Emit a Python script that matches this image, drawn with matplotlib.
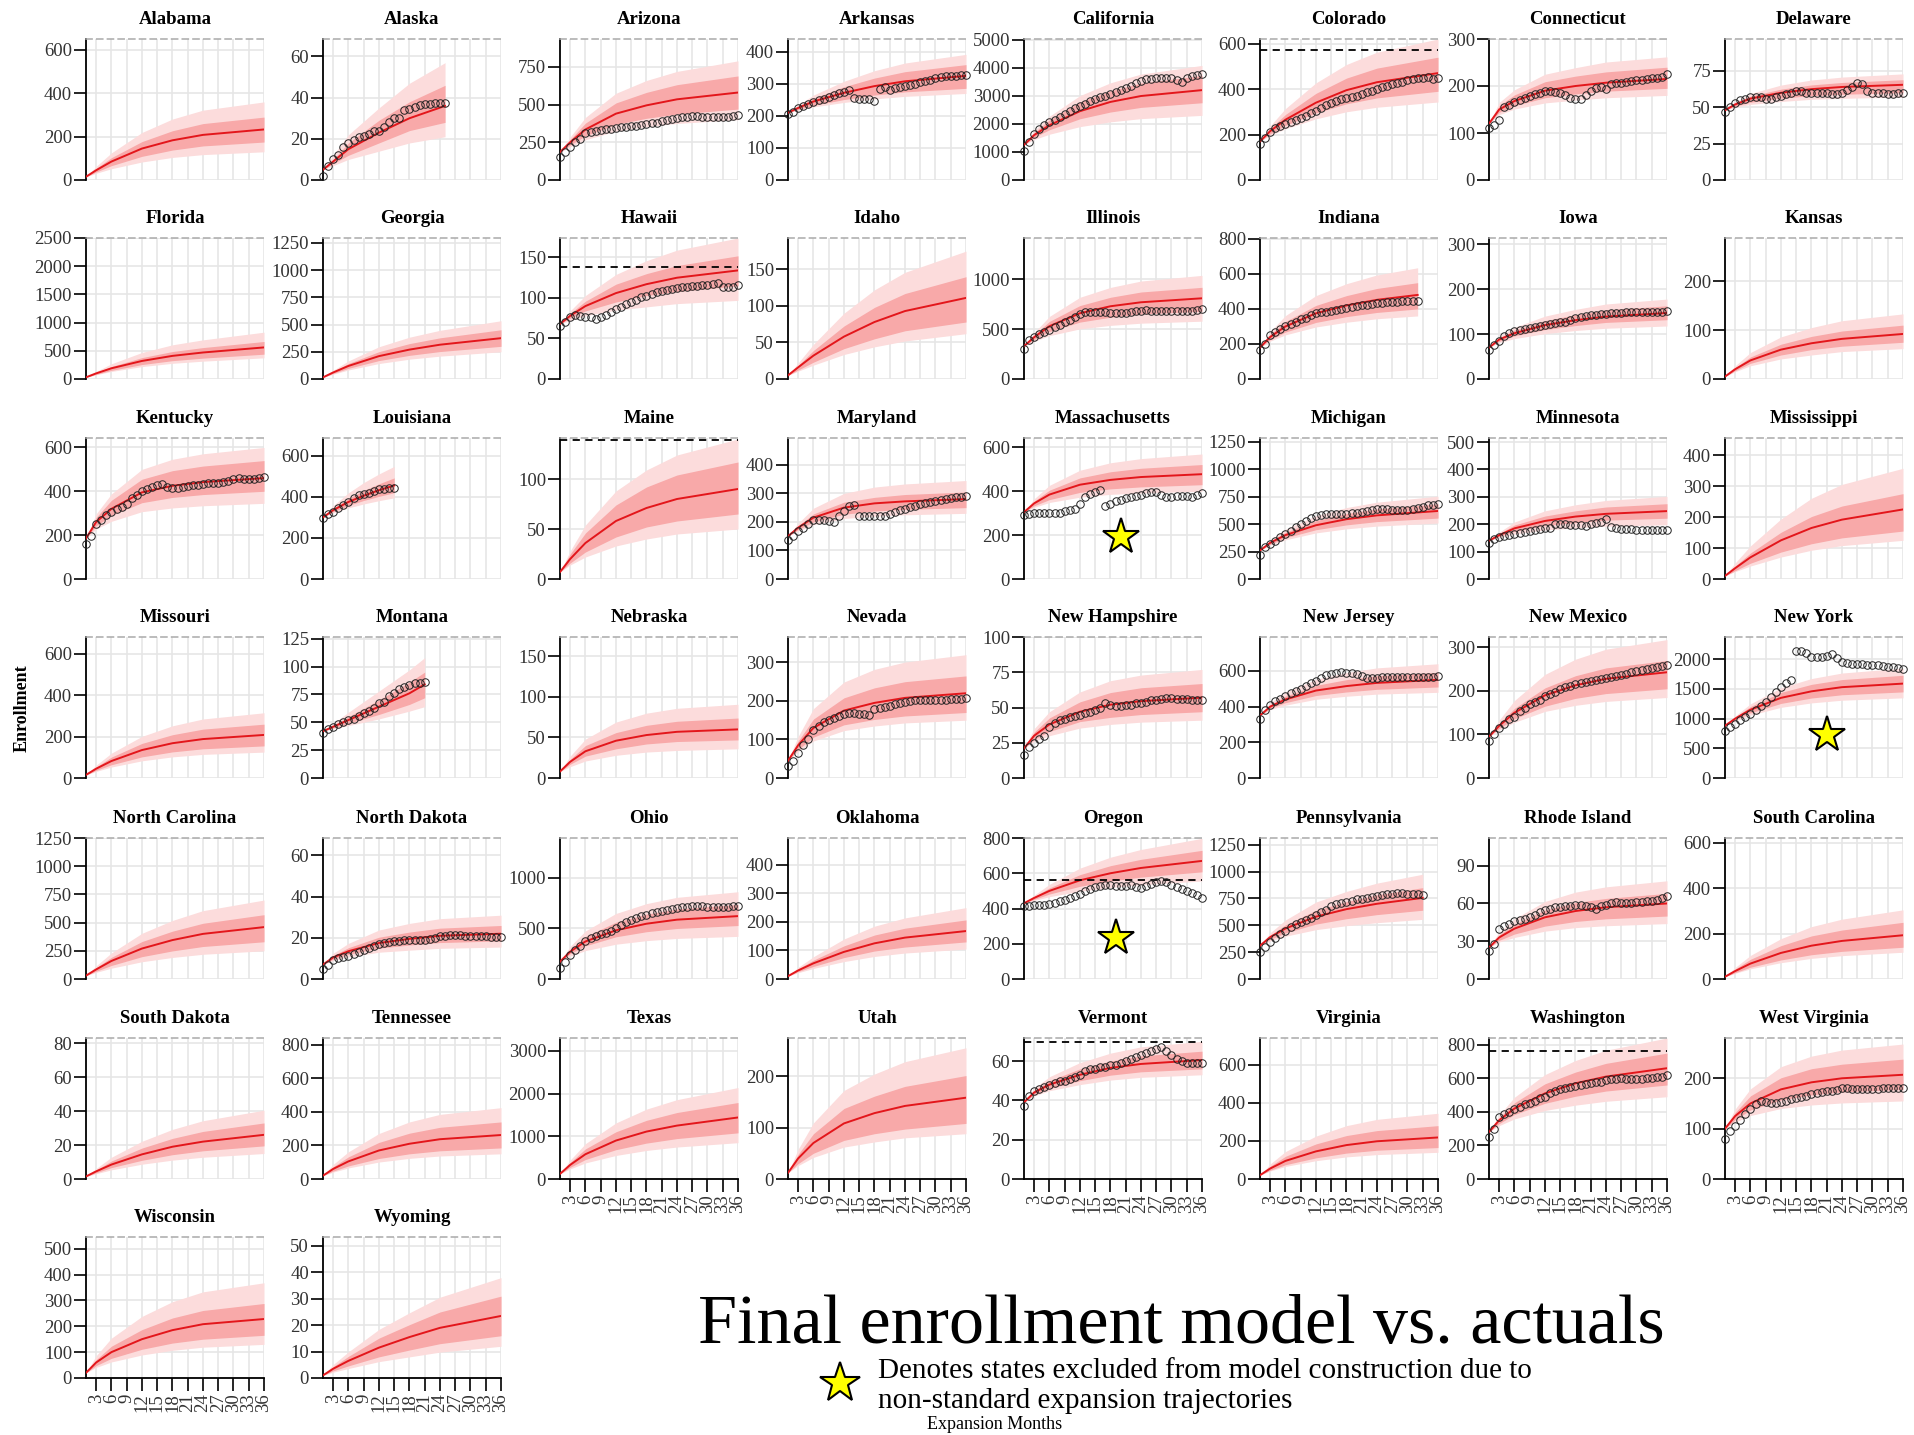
import numpy as np
import matplotlib.pyplot as plt

plt.rcParams['font.family'] = ['Liberation Serif', 'DejaVu Serif']

# model quantiles are sampled at these expansion months
MONTHS = [1, 3, 6, 12, 18, 24, 36]
MODEL_MONTHS = {
    'Alaska': [1, 3, 6, 12, 18, 25],
    'Louisiana': [1, 3, 6, 9, 12, 15],
    'Montana': [1, 3, 6, 12, 18, 21],
    'Indiana': [1, 3, 6, 12, 18, 24, 32],
    'Pennsylvania': [1, 3, 6, 12, 18, 24, 33],
}

STATES = [
    'Alabama', 'Alaska', 'Arizona', 'Arkansas', 'California', 'Colorado', 'Connecticut', 'Delaware',
    'Florida', 'Georgia', 'Hawaii', 'Idaho', 'Illinois', 'Indiana', 'Iowa', 'Kansas',
    'Kentucky', 'Louisiana', 'Maine', 'Maryland', 'Massachusetts', 'Michigan', 'Minnesota', 'Mississippi',
    'Missouri', 'Montana', 'Nebraska', 'Nevada', 'New Hampshire', 'New Jersey', 'New Mexico', 'New York',
    'North Carolina', 'North Dakota', 'Ohio', 'Oklahoma', 'Oregon', 'Pennsylvania', 'Rhode Island', 'South Carolina',
    'South Dakota', 'Tennessee', 'Texas', 'Utah', 'Vermont', 'Virginia', 'Washington', 'West Virginia',
    'Wisconsin', 'Wyoming',
]

Y_TOP = {
    'Alabama': 650, 'Alaska': 68.5, 'Arizona': 935, 'Arkansas': 440, 'California': 5020,
    'Colorado': 620, 'Connecticut': 300, 'Delaware': 97, 'Florida': 2500, 'Georgia': 1295,
    'Hawaii': 174, 'Idaho': 193, 'Illinois': 1415, 'Indiana': 805, 'Iowa': 314, 'Kansas': 288,
    'Kentucky': 643, 'Louisiana': 686, 'Maine': 141, 'Maryland': 494, 'Massachusetts': 643,
    'Michigan': 1285, 'Minnesota': 515, 'Mississippi': 456, 'Missouri': 681, 'Montana': 126.5,
    'Nebraska': 174, 'Nevada': 366, 'New Hampshire': 100, 'New Jersey': 790, 'New Mexico': 324,
    'New York': 2375, 'North Carolina': 1250, 'North Dakota': 68.5, 'Ohio': 1390, 'Oklahoma': 494,
    'Oregon': 800, 'Pennsylvania': 1312, 'Rhode Island': 112, 'South Carolina': 622,
    'South Dakota': 83, 'Tennessee': 840, 'Texas': 3300, 'Utah': 274, 'Vermont': 71.7,
    'Virginia': 740, 'Washington': 840, 'West Virginia': 280, 'Wisconsin': 545, 'Wyoming': 53.4,
}

Y_STEP = {
    'Alabama': 200, 'Alaska': 20, 'Arizona': 250, 'Arkansas': 100, 'California': 1000,
    'Colorado': 200, 'Connecticut': 100, 'Delaware': 25, 'Florida': 500, 'Georgia': 250,
    'Hawaii': 50, 'Idaho': 50, 'Illinois': 500, 'Indiana': 200, 'Iowa': 100, 'Kansas': 100,
    'Kentucky': 200, 'Louisiana': 200, 'Maine': 50, 'Maryland': 100, 'Massachusetts': 200,
    'Michigan': 250, 'Minnesota': 100, 'Mississippi': 100, 'Missouri': 200, 'Montana': 25,
    'Nebraska': 50, 'Nevada': 100, 'New Hampshire': 25, 'New Jersey': 200, 'New Mexico': 100,
    'New York': 500, 'North Carolina': 250, 'North Dakota': 20, 'Ohio': 500, 'Oklahoma': 100,
    'Oregon': 200, 'Pennsylvania': 250, 'Rhode Island': 30, 'South Carolina': 200,
    'South Dakota': 20, 'Tennessee': 200, 'Texas': 1000, 'Utah': 100, 'Vermont': 20,
    'Virginia': 200, 'Washington': 200, 'West Virginia': 100, 'Wisconsin': 100, 'Wyoming': 10,
}

MEDIAN = {
    'Alabama': [15, 45, 85, 145, 183, 208, 233],
    'Alaska': [5, 9, 15, 23, 30, 36],
    'Arizona': [185, 250, 335, 440, 495, 535, 580],
    'Arkansas': [210, 225, 245, 272, 293, 308, 325],
    'California': [1250, 1600, 1950, 2450, 2780, 2990, 3200],
    'Colorado': [170, 215, 265, 340, 395, 430, 470],
    'Connecticut': [120, 150, 168, 190, 200, 207, 215],
    'Delaware': [48, 52, 56, 60, 62.5, 64, 65.5],
    'Florida': [30, 100, 190, 320, 410, 470, 560],
    'Georgia': [15, 60, 120, 210, 270, 315, 375],
    'Hawaii': [68, 78, 90, 106, 117, 125, 134],
    'Idaho': [5, 16, 32, 58, 78, 93, 111],
    'Illinois': [330, 420, 530, 660, 730, 770, 810],
    'Indiana': [180, 240, 300, 375, 420, 452, 480],
    'Iowa': [70, 88, 102, 120, 131, 139, 147],
    'Kansas': [5, 20, 38, 60, 73, 82, 92],
    'Kentucky': [185, 260, 320, 395, 425, 442, 460],
    'Louisiana': [300, 335, 375, 405, 432, 455],
    'Maine': [7, 20, 36, 58, 71, 80, 90],
    'Maryland': [150, 180, 215, 250, 265, 272, 280],
    'Massachusetts': [305, 345, 385, 430, 452, 465, 478],
    'Michigan': [260, 330, 400, 490, 545, 580, 620],
    'Minnesota': [140, 160, 185, 212, 228, 238, 248],
    'Mississippi': [10, 35, 70, 125, 165, 192, 225],
    'Missouri': [15, 45, 82, 135, 168, 188, 208],
    'Montana': [42, 46, 52, 64, 76, 84],
    'Nebraska': [8, 20, 33, 46, 53, 57, 60],
    'Nevada': [45, 85, 130, 175, 195, 208, 220],
    'New Hampshire': [21, 30, 38, 47, 52, 54.5, 57],
    'New Jersey': [350, 400, 440, 490, 515, 533, 550],
    'New Mexico': [95, 120, 150, 190, 213, 228, 243],
    'New York': [880, 1000, 1150, 1350, 1460, 1530, 1590],
    'North Carolina': [30, 85, 160, 270, 345, 400, 460],
    'North Dakota': [7, 10.5, 13.5, 17.5, 19.5, 21, 22],
    'Ohio': [170, 270, 370, 480, 545, 585, 620],
    'Oklahoma': [10, 30, 55, 95, 125, 145, 168],
    'Oregon': [430, 460, 500, 560, 600, 630, 670],
    'Pennsylvania': [310, 390, 470, 580, 650, 700, 755],
    'Rhode Island': [25, 33, 40, 49, 54, 57, 60],
    'South Carolina': [10, 35, 68, 115, 147, 168, 193],
    'South Dakota': [1.5, 4.5, 8.5, 14.5, 19, 22, 26],
    'Tennessee': [20, 60, 105, 170, 210, 237, 262],
    'Texas': [120, 330, 580, 900, 1110, 1250, 1440],
    'Utah': [12, 40, 70, 108, 128, 142, 158],
    'Vermont': [39, 44, 48, 53, 56.5, 58.5, 60.5],
    'Virginia': [20, 55, 95, 145, 178, 198, 218],
    'Washington': [280, 350, 420, 510, 570, 610, 660],
    'West Virginia': [100, 125, 150, 178, 192, 200, 207],
    'Wisconsin': [20, 60, 100, 150, 185, 208, 228],
    'Wyoming': [1, 3.5, 6.5, 11.5, 15.5, 19, 23.5],
}

INNER_LO = {
    'Alabama': [15, 37, 66, 109, 138, 157, 175],
    'Alaska': [5, 8, 12, 18, 24, 28],
    'Arizona': [185, 232, 293, 369, 409, 437, 470],
    'Arkansas': [210, 220, 233, 251, 265, 275, 286],
    'California': [1250, 1520, 1790, 2180, 2420, 2585, 2750],
    'Colorado': [170, 203, 240, 295, 335, 361, 390],
    'Connecticut': [120, 144, 158, 175, 183, 189, 195],
    'Delaware': [48, 50.8, 53.5, 56.3, 58, 59, 60],
    'Florida': [30, 83, 153, 256, 325, 370, 440],
    'Georgia': [15, 51, 98, 169, 217, 252, 300],
    'Hawaii': [68, 75, 84, 95, 103, 108, 115],
    'Idaho': [5, 12.3, 23, 41.5, 55, 66, 78],
    'Illinois': [330, 397, 477, 571, 620, 652, 680],
    'Indiana': [180, 224, 268, 323, 356, 380, 400],
    'Iowa': [70, 84, 96, 110, 119, 126, 132],
    'Kansas': [5, 17, 32, 49, 60, 67, 75],
    'Kentucky': [185, 243, 290, 348, 372, 385, 400],
    'Louisiana': [300, 328, 358, 382, 402, 420],
    'Maine': [7, 16, 27, 42, 52, 58, 65],
    'Maryland': [150, 173, 200, 227, 238, 244, 250],
    'Massachusetts': [305, 334, 362, 395, 411, 420, 430],
    'Michigan': [260, 316, 375, 449, 493, 523, 555],
    'Minnesota': [140, 156, 174, 195, 206, 215, 222],
    'Mississippi': [10, 27, 51, 87, 114, 133, 155],
    'Missouri': [15, 37, 64, 102, 126, 141, 155],
    'Montana': [42, 45, 49, 57, 66, 72],
    'Nebraska': [8, 17, 27, 36, 42, 45, 47],
    'Nevada': [45, 74, 106, 138, 152, 161, 170],
    'New Hampshire': [21, 27.5, 33, 40, 43, 45, 47],
    'New Jersey': [350, 390, 422, 462, 482, 497, 510],
    'New Mexico': [95, 114, 136, 165, 183, 194, 205],
    'New York': [880, 977, 1097, 1256, 1347, 1402, 1450],
    'North Carolina': [30, 69, 120, 198, 249, 288, 330],
    'North Dakota': [7, 9.6, 12, 15, 16.5, 17.7, 18.5],
    'Ohio': [170, 249, 327, 416, 466, 498, 527],
    'Oklahoma': [10, 26, 44, 75, 98, 112, 130],
    'Oregon': [430, 452, 482, 526, 556, 578, 608],
    'Pennsylvania': [310, 369, 429, 511, 561, 599, 640],
    'Rhode Island': [25, 30.7, 35.7, 42, 45.7, 47.8, 50],
    'South Carolina': [10, 28, 52, 84, 107, 122, 140],
    'South Dakota': [1.5, 3.7, 6.7, 11, 14.3, 16.6, 19.5],
    'Tennessee': [20, 47, 78, 122, 150, 168, 185],
    'Texas': [120, 274, 456, 686, 840, 946, 1080],
    'Utah': [12, 30, 50, 75, 88, 97, 108],
    'Vermont': [39, 43, 46, 50, 52.8, 54.5, 56],
    'Virginia': [20, 46, 75, 111, 136, 151, 165],
    'Washington': [280, 330, 384, 451, 493, 524, 560],
    'West Virginia': [100, 118, 137, 157, 167, 173, 178],
    'Wisconsin': [20, 48, 76, 111, 135, 150, 165],
    'Wyoming': [1, 2.7, 4.6, 8, 10.6, 13, 16],
}

INNER_HI = {
    'Alabama': [15, 54, 103, 177, 227, 260, 290],
    'Alaska': [5, 10, 18, 29, 38, 46],
    'Arizona': [185, 268, 377, 511, 581, 632, 690],
    'Arkansas': [210, 230, 255, 291, 318, 338, 360],
    'California': [1250, 1695, 2140, 2780, 3175, 3450, 3720],
    'Colorado': [170, 226, 288, 381, 448, 492, 540],
    'Connecticut': [120, 158, 181, 209, 221, 230, 240],
    'Delaware': [48, 52.8, 57.7, 62.5, 65.4, 67.1, 69],
    'Florida': [30, 113, 221, 379, 487, 557, 665],
    'Georgia': [15, 70, 142, 251, 325, 378, 452],
    'Hawaii': [68, 81, 96, 117, 130, 140, 152],
    'Idaho': [5, 18.5, 39, 72.5, 98, 117, 140],
    'Illinois': [330, 442, 578, 737, 820, 873, 920],
    'Indiana': [180, 254, 328, 420, 476, 517, 550],
    'Iowa': [70, 91, 109, 130, 143, 154, 163],
    'Kansas': [5, 23, 45, 71, 87, 98, 110],
    'Kentucky': [185, 281, 359, 455, 494, 515, 540],
    'Louisiana': [300, 344, 392, 431, 463, 492],
    'Maine': [7, 25, 46, 74, 92, 104, 117],
    'Maryland': [150, 186, 228, 269, 286, 296, 305],
    'Massachusetts': [305, 355, 405, 461, 489, 505, 522],
    'Michigan': [260, 341, 426, 532, 596, 638, 685],
    'Minnesota': [140, 166, 197, 230, 249, 263, 275],
    'Mississippi': [10, 42, 84, 151, 202, 236, 276],
    'Missouri': [15, 53, 101, 167, 209, 236, 260],
    'Montana': [42, 47, 55, 70, 86, 95],
    'Nebraska': [8, 23, 40, 56, 65, 70, 74],
    'Nevada': [45, 96, 153, 208, 234, 250, 265],
    'New Hampshire': [21, 32.5, 42.6, 54, 60.6, 64, 67],
    'New Jersey': [350, 410, 459, 519, 551, 573, 592],
    'New Mexico': [95, 125, 160, 207, 235, 253, 270],
    'New York': [880, 1025, 1203, 1441, 1577, 1658, 1730],
    'North Carolina': [30, 100, 192, 332, 424, 494, 570],
    'North Dakota': [7, 11.4, 15.2, 20.3, 22.8, 24.7, 26],
    'Ohio': [170, 294, 419, 560, 639, 690, 735],
    'Oklahoma': [10, 36, 66, 116, 154, 178, 207],
    'Oregon': [430, 468, 517, 592, 643, 679, 730],
    'Pennsylvania': [310, 407, 504, 639, 720, 783, 850],
    'Rhode Island': [25, 35, 43.5, 54.7, 60.7, 64, 68],
    'South Carolina': [10, 44, 87, 147, 190, 216, 250],
    'South Dakota': [1.5, 5.3, 10.6, 18.2, 23.9, 28, 33],
    'Tennessee': [20, 73, 132, 218, 273, 308, 340],
    'Texas': [120, 387, 705, 1105, 1373, 1556, 1790],
    'Utah': [12, 48, 88, 137, 161, 180, 201],
    'Vermont': [39, 45, 50, 56, 60, 62.6, 65],
    'Virginia': [20, 67, 119, 184, 228, 254, 280],
    'Washington': [280, 365, 454, 567, 637, 689, 750],
    'West Virginia': [100, 132, 165, 201, 219, 228, 238],
    'Wisconsin': [20, 71, 123, 187, 232, 261, 288],
    'Wyoming': [1, 4.3, 8.2, 15.1, 20.2, 25, 31],
}

OUTER_LO = {
    'Alabama': [15, 31, 52, 83, 104, 117, 130],
    'Alaska': [5, 7, 10, 14, 18, 21],
    'Arizona': [185, 220, 267, 324, 354, 375, 400],
    'Arkansas': [210, 218, 228, 242, 253, 261, 270],
    'California': [1250, 1440, 1630, 1900, 2070, 2185, 2300],
    'Colorado': [170, 196, 225, 269, 300, 320, 343],
    'Connecticut': [120, 139, 151, 164, 170, 175, 180],
    'Delaware': [48, 50, 52, 54, 55.5, 56.2, 57],
    'Florida': [30, 75, 134, 220, 278, 316, 375],
    'Georgia': [15, 44, 83, 142, 182, 210, 250],
    'Hawaii': [68, 72, 78, 85, 89, 93, 97],
    'Idaho': [5, 10.7, 19, 33.5, 44, 52, 62],
    'Illinois': [330, 378, 435, 503, 538, 560, 580],
    'Indiana': [180, 216, 252, 297, 324, 344, 360],
    'Iowa': [70, 81, 90, 101, 108, 113, 118],
    'Kansas': [5, 15, 27, 41, 49, 56, 62],
    'Kentucky': [185, 228, 263, 307, 324, 334, 345],
    'Louisiana': [300, 322, 346, 365, 381, 395],
    'Maine': [7, 14, 22, 33, 40, 45, 50],
    'Maryland': [150, 168, 190, 212, 220, 225, 230],
    'Massachusetts': [305, 327, 349, 373, 386, 392, 400],
    'Michigan': [260, 308, 357, 420, 457, 482, 510],
    'Minnesota': [140, 151, 164, 179, 187, 193, 198],
    'Mississippi': [10, 24, 42, 71, 93, 108, 125],
    'Missouri': [15, 32, 53, 83, 102, 114, 125],
    'Montana': [42, 44, 47, 53, 60, 64],
    'Nebraska': [8, 14, 21, 28, 32, 34, 36],
    'Nevada': [45, 69, 96, 123, 135, 143, 150],
    'New Hampshire': [21, 26, 30, 35.4, 38, 39.6, 41],
    'New Jersey': [350, 383, 408, 441, 458, 470, 480],
    'New Mexico': [95, 110, 128, 153, 167, 176, 185],
    'New York': [880, 960, 1059, 1190, 1265, 1310, 1350],
    'North Carolina': [30, 59, 96, 153, 191, 219, 250],
    'North Dakota': [7, 9, 10.7, 13, 14, 14.9, 15.5],
    'Ohio': [170, 225, 280, 343, 378, 400, 420],
    'Oklahoma': [10, 22, 37, 61, 79, 91, 105],
    'Oregon': [430, 446, 467, 498, 519, 535, 556],
    'Pennsylvania': [310, 354, 398, 459, 496, 524, 555],
    'Rhode Island': [25, 29.4, 33, 38, 40.8, 42.3, 44],
    'South Carolina': [10, 25, 45, 72, 91, 103, 118],
    'South Dakota': [1.5, 3.1, 5.4, 8.7, 11.1, 12.8, 15],
    'Tennessee': [20, 41, 66, 101, 123, 137, 150],
    'Texas': [120, 237, 376, 551, 668, 748, 850],
    'Utah': [12, 26, 42, 62, 72, 80, 88],
    'Vermont': [39, 42.2, 44.9, 48, 50.3, 51.7, 53],
    'Virginia': [20, 42, 66, 96, 116, 128, 140],
    'Washington': [280, 318, 358, 408, 440, 463, 490],
    'West Virginia': [100, 113, 126, 140, 147, 151, 155],
    'Wisconsin': [20, 41, 62, 89, 107, 119, 130],
    'Wyoming': [1, 2.2, 3.6, 6.2, 8, 9.8, 12],
}

OUTER_HI = {
    'Alabama': [15, 63, 125, 219, 281, 322, 360],
    'Alaska': [5, 12, 22, 35, 47, 57],
    'Arizona': [185, 285, 415, 575, 660, 720, 790],
    'Arkansas': [210, 234, 265, 308, 341, 365, 392],
    'California': [1250, 1760, 2270, 3005, 3460, 3770, 4080],
    'Colorado': [170, 238, 314, 427, 508, 562, 620],
    'Connecticut': [120, 165, 192, 225, 239, 251, 262],
    'Delaware': [48, 53.8, 59.5, 65.3, 68.8, 70.8, 73],
    'Florida': [30, 134, 270, 470, 606, 694, 830],
    'Georgia': [15, 80, 166, 296, 384, 447, 535],
    'Hawaii': [68, 84, 103, 129, 146, 159, 174],
    'Idaho': [5, 22, 47.5, 90, 122, 146, 175],
    'Illinois': [330, 465, 628, 820, 919, 983, 1040],
    'Indiana': [180, 271, 362, 476, 544, 594, 635],
    'Iowa': [70, 95, 115, 140, 155, 167, 178],
    'Kansas': [5, 27, 54, 86, 105, 119, 133],
    'Kentucky': [185, 297, 388, 500, 546, 571, 600],
    'Louisiana': [300, 357, 419, 469, 511, 548],
    'Maine': [7, 28, 54, 88, 109, 124, 140],
    'Maryland': [150, 195, 248, 300, 322, 333, 345],
    'Massachusetts': [305, 366, 427, 496, 530, 549, 570],
    'Michigan': [260, 354, 453, 577, 651, 700, 755],
    'Minnesota': [140, 171, 208, 249, 271, 287, 302],
    'Mississippi': [10, 52, 107, 194, 261, 306, 358],
    'Missouri': [15, 62, 120, 201, 252, 285, 315],
    'Montana': [42, 49, 59, 78, 97, 108],
    'Nebraska': [8, 27, 48, 69, 80, 86, 91],
    'Nevada': [45, 108, 180, 249, 282, 301, 320],
    'New Hampshire': [21, 35, 47, 61, 69, 73, 77],
    'New Jersey': [350, 422, 480, 553, 591, 617, 640],
    'New Mexico': [95, 133, 178, 238, 273, 296, 318],
    'New York': [880, 1045, 1249, 1520, 1675, 1768, 1850],
    'North Carolina': [30, 117, 231, 405, 519, 606, 700],
    'North Dakota': [7, 12.5, 17.3, 23.8, 27, 29.3, 31],
    'Ohio': [170, 322, 474, 646, 743, 805, 860],
    'Oklahoma': [10, 41, 78, 140, 185, 214, 250],
    'Oregon': [430, 476, 537, 629, 691, 735, 798],
    'Pennsylvania': [310, 430, 549, 716, 815, 892, 975],
    'Rhode Island': [25, 37.2, 47.8, 61.6, 69, 73.2, 78],
    'South Carolina': [10, 51, 104, 178, 231, 264, 305],
    'South Dakota': [1.5, 6.2, 12.8, 22.2, 29.2, 34.3, 40.5],
    'Tennessee': [20, 87, 162, 271, 340, 385, 425],
    'Texas': [120, 443, 827, 1312, 1635, 1857, 2140],
    'Utah': [12, 58, 109, 172, 204, 228, 255],
    'Vermont': [39, 46.1, 52, 59.2, 64, 67.2, 70],
    'Virginia': [20, 79, 144, 225, 280, 313, 345],
    'Washington': [280, 381, 487, 622, 706, 767, 840],
    'West Virginia': [100, 139, 179, 223, 244, 256, 268],
    'Wisconsin': [20, 86, 154, 238, 295, 333, 368],
    'Wyoming': [1, 5.1, 9.9, 18.4, 24.7, 30.6, 38],
}

# monthly actual enrollment, starting at expansion month 1
ACTUAL = {
    'Alaska': [2, 7, 10, 12, 16, 18, 19.5, 21, 21.3, 22.5, 23.6, 24, 25.7, 28, 30, 30.3, 34, 34.4,
               35.6, 36.2, 36.7, 36.9, 37.2, 37.2, 37.2],
    'Arizona': [150, 185, 220, 250, 275, 310, 320, 328, 332, 336, 340, 345, 350, 352, 356, 360, 365, 370,
                375, 380, 388, 395, 402, 410, 415, 420, 422, 422, 420, 418, 416, 416, 418, 420, 422, 428],
    'Arkansas': [205, 212, 224, 232, 238, 244, 249, 254, 259, 264, 270, 276, 280, 255, 254, 253, 252, 248,
                 283, 289, 281, 286, 289, 294, 297, 300, 305, 310, 313, 317, 321, 323, 325, 326, 327, 328],
    'California': [1050, 1350, 1650, 1800, 1950, 2050, 2150, 2250, 2350, 2450, 2550, 2650, 2720, 2800, 2880,
                   2950, 3000, 3060, 3120, 3200, 3280, 3360, 3440, 3520, 3580, 3600, 3620, 3630, 3640, 3620,
                   3560, 3480, 3620, 3720, 3740, 3760],
    'Colorado': [160, 185, 212, 227, 237, 247, 255, 263, 272, 282, 293, 305, 318, 330, 340, 348, 355, 360,
                 365, 370, 378, 385, 393, 400, 408, 415, 422, 428, 433, 440, 445, 450, 448, 452, 446, 450],
    'Connecticut': [110, 118, 128, 155, 160, 165, 170, 175, 178, 182, 185, 190, 190, 188, 185, 180, 175, 172,
                    172, 180, 190, 195, 198, 193, 205, 207, 207, 208, 210, 212, 213, 215, 217, 218, 220, 225],
    'Delaware': [47, 50, 53, 55, 56, 57, 57, 57, 56, 56, 57, 58, 59, 60, 61, 61, 60, 60,
                 60, 60, 60, 59, 59, 60, 62, 64, 67, 66, 61, 60, 60, 60, 59, 59, 60, 60],
    'Hawaii': [65, 70, 76, 79, 78, 77, 76, 74, 76, 79, 83, 86, 89, 92, 95, 98, 101, 103,
               105, 107, 109, 110, 111, 112, 113, 114, 115, 115, 116, 116, 117, 118, 114, 113, 114, 116],
    'Illinois': [300, 390, 425, 450, 475, 495, 520, 545, 570, 595, 625, 650, 670, 675, 672, 670, 668, 665,
                 660, 662, 665, 672, 680, 685, 688, 685, 682, 680, 680, 680, 680, 682, 684, 686, 690, 700],
    'Indiana': [165, 200, 250, 270, 285, 300, 315, 325, 340, 350, 365, 375, 380, 385, 390, 395, 400, 405,
                410, 415, 420, 425, 430, 432, 435, 438, 440, 442, 445, 445, 448, 445],
    'Iowa': [65, 75, 85, 95, 103, 108, 110, 112, 114, 116, 118, 120, 122, 124, 126, 128, 132, 135,
             138, 140, 142, 143, 144, 145, 146, 147, 148, 149, 150, 150, 150, 149, 149, 150, 150, 151],
    'Kentucky': [160, 195, 250, 270, 290, 305, 320, 330, 340, 370, 385, 400, 410, 420, 430, 435, 420, 415,
                 415, 420, 425, 428, 430, 435, 438, 440, 440, 442, 445, 455, 460, 458, 455, 455, 460, 465],
    'Louisiana': [297, 314, 327, 345, 360, 375, 395, 410, 415, 420, 428, 436, 440, 444, 445],
    'Maryland': [138, 152, 167, 180, 192, 206, 208, 206, 202, 199, 220, 238, 255, 261, 222, 220, 220, 220,
                 220, 222, 228, 234, 240, 246, 252, 257, 262, 266, 270, 274, 278, 281, 284, 287, 289, 291],
    'Massachusetts': [293, 298, 300, 300, 301, 301, 302, 302, 308, 313, 320, 340, 372, 388, 398, 408, 332, 343,
                      355, 361, 368, 373, 379, 384, 392, 398, 395, 384, 373, 376, 380, 380, 378, 376, 384, 390],
    'Michigan': [220, 290, 320, 350, 380, 410, 440, 470, 500, 530, 555, 575, 585, 590, 590, 590, 592, 595,
                 598, 600, 610, 620, 630, 640, 640, 635, 630, 625, 625, 625, 640, 650, 660, 670, 675, 680],
    'Minnesota': [130, 145, 155, 158, 162, 165, 168, 172, 175, 178, 182, 185, 188, 200, 202, 200, 198, 197,
                  196, 195, 200, 205, 210, 220, 190, 185, 183, 182, 181, 180, 180, 179, 179, 180, 180, 180],
    'Montana': [40, 44, 46, 48, 50, 52, 53, 56, 58, 60, 63, 67, 68, 74, 76, 80, 82, 83, 85, 85.5, 86],
    'Nevada': [30, 45, 65, 85, 100, 125, 135, 145, 150, 155, 160, 165, 168, 168, 165, 165, 163, 180,
               183, 185, 188, 192, 195, 198, 200, 203, 203, 202, 202, 203, 203, 203, 205, 205, 206, 207],
    'New Hampshire': [16, 22, 25, 28, 30, 36, 39, 41, 42, 43, 44, 45, 46, 47, 48, 50, 53, 52,
                      51, 51, 52, 52, 53, 53, 54, 55, 55, 56, 57, 57, 56, 56, 56, 55, 55, 55],
    'New Jersey': [330, 380, 410, 430, 445, 460, 475, 490, 500, 515, 530, 545, 560, 575, 585, 590, 592, 590,
                   588, 580, 570, 562, 560, 562, 565, 567, 568, 568, 566, 566, 566, 565, 565, 565, 566, 570],
    'New Mexico': [85, 102, 115, 125, 135, 140, 155, 162, 170, 175, 180, 188, 193, 198, 205, 210, 212, 215,
                   218, 220, 222, 225, 228, 230, 232, 235, 237, 240, 243, 245, 248, 250, 252, 255, 257, 260],
    'New York': [800, 855, 910, 970, 1025, 1085, 1140, 1220, 1280, 1365, 1450, 1535, 1600, 1655, 2140, 2140,
                 2100, 2045, 2030, 2045, 2060, 2085, 2020, 1960, 1930, 1920, 1920, 1915, 1905, 1900, 1895,
                 1885, 1875, 1865, 1855, 1835],
    'North Dakota': [5, 7, 9, 10, 10.5, 11, 12, 13, 14, 15, 16, 17, 17.5, 18, 18.5, 18.5, 19, 19,
                     19, 19, 19, 19.5, 20, 21, 21, 21.5, 21.5, 21.5, 21, 21, 21, 21, 21, 20.5, 20.5, 20.5],
    'Ohio': [110, 170, 240, 290, 330, 370, 400, 420, 440, 450, 470, 500, 530, 560, 580, 600, 620, 635,
             650, 660, 670, 680, 690, 700, 705, 710, 715, 715, 715, 712, 710, 710, 710, 712, 715, 715],
    'Oregon': [413, 417, 420, 420, 420, 425, 432, 440, 450, 460, 470, 485, 500, 512, 522, 530, 535, 532,
               528, 525, 530, 535, 522, 518, 530, 540, 550, 555, 548, 535, 522, 510, 500, 490, 478, 462],
    'Pennsylvania': [250, 300, 340, 380, 420, 450, 480, 510, 530, 550, 570, 600, 620, 640, 680, 700, 710,
                     720, 730, 740, 745, 750, 760, 770, 780, 790, 795, 800, 800, 795, 790, 790, 780],
    'Rhode Island': [22, 28, 40, 42, 44, 46, 47, 48, 49, 51, 53, 55, 56, 57, 57, 58, 58, 59,
                     59, 58, 57, 56, 58, 59, 60, 61, 60, 60, 60, 61, 61, 62, 62, 63, 64, 66],
    'Vermont': [37, 42, 45, 46, 47, 48, 49, 50, 50, 51, 52, 53, 55, 56, 56, 57, 57, 58,
                58, 59, 60, 61, 62, 63, 64, 65, 66, 67, 65, 63, 61, 60, 59, 59, 59, 59],
    'Washington': [250, 300, 370, 385, 400, 415, 430, 445, 455, 465, 480, 490, 510, 525, 535, 545, 550, 555,
                   560, 565, 570, 575, 580, 590, 595, 595, 600, 598, 595, 595, 598, 600, 600, 605, 610, 620],
    'West Virginia': [80, 95, 105, 118, 130, 140, 148, 155, 152, 150, 150, 152, 155, 158, 160, 162, 165, 168,
                      170, 172, 174, 175, 176, 180, 180, 179, 178, 178, 178, 178, 178, 180, 180, 181, 180, 180],
}

# program capacity limits (dashed lines)
CAP = {'Colorado': 570, 'Hawaii': 138, 'Maine': 139, 'Oregon': 560, 'Vermont': 69.5, 'Washington': 760}

# states left out of the model fit, star placed at (month, enrollment)
EXCLUDED = {'Massachusetts': (20, 190), 'New York': (21, 730), 'Oregon': (19, 230)}

X_TICKS = list(range(3, 37, 3))

FIG_W, FIG_H = 1915, 1435
COL_LEFT = [86, 323, 560, 788, 1024, 1260, 1489, 1725]
ROW_TOP = [39, 238, 438, 637, 838, 1038, 1237]
AX_W, AX_H = 178, 141

OUTER_COLOR = '#fcdcdc'
INNER_COLOR = '#f8a9a9'
LINE_COLOR = '#e3161b'
GRID_COLOR = '#e6e6e6'
TICK_COLOR = '#333333'

fig = plt.figure(figsize=(FIG_W / 100, FIG_H / 100), dpi=100)

for i, state in enumerate(STATES):
    r, c = divmod(i, 8)
    left, top = COL_LEFT[c], ROW_TOP[r]
    ax = fig.add_axes([left / FIG_W, 1 - (top + AX_H) / FIG_H, AX_W / FIG_W, AX_H / FIG_H])
    bottom_panel = r == 6 or (r == 5 and c >= 2)

    months = MODEL_MONTHS.get(state, MONTHS)
    ax.fill_between(months, OUTER_LO[state], OUTER_HI[state], color=OUTER_COLOR, lw=0, zorder=1)
    ax.fill_between(months, INNER_LO[state], INNER_HI[state], color=INNER_COLOR, lw=0, zorder=2)
    ax.plot(months, MEDIAN[state], color=LINE_COLOR, lw=1.4, zorder=3)

    if state in ACTUAL:
        vals = ACTUAL[state]
        ax.plot(np.arange(1, len(vals) + 1), vals, 'o', mfc='none', mec='#222222',
                ms=5.4, mew=0.7, zorder=4, clip_on=False)
    if state in CAP:
        ax.axhline(CAP[state], color='black', lw=1.3, ls=(0, (4, 3)), zorder=3)
    if state in EXCLUDED:
        sx, sy = EXCLUDED[state]
        ax.plot(sx, sy, marker='*', ms=27, mfc='#ffff00', mec='black', mew=1.5, zorder=6)

    ax.set_xlim(1, 36)
    ax.set_ylim(0, Y_TOP[state])
    ax.set_xticks(X_TICKS)
    ax.set_yticks(np.arange(0, Y_TOP[state] + 1e-6, Y_STEP[state]))
    ax.grid(color=GRID_COLOR, lw=1.2)
    ax.set_axisbelow(True)

    ax.spines['right'].set_visible(False)
    ax.spines['top'].set_color('#aaaaaa')
    ax.spines['top'].set_linestyle((0, (4, 3)))
    ax.spines['top'].set_linewidth(1.1)
    ax.spines['left'].set_linewidth(1.3)
    ax.tick_params(axis='y', length=9, width=1.2, pad=1, labelsize=13.5, labelcolor=TICK_COLOR)
    if bottom_panel:
        ax.spines['bottom'].set_linewidth(1.3)
        ax.tick_params(axis='x', length=9, width=1.2, pad=2, labelsize=13.5,
                       labelcolor=TICK_COLOR, labelrotation=90)
    else:
        ax.spines['bottom'].set_visible(False)
        ax.tick_params(axis='x', length=0, labelbottom=False)

    ax.set_title(state, fontsize=13.5, fontweight='bold', pad=11)

fig.text(22 / FIG_W, 1 - 708 / FIG_H, 'Enrollment', rotation=90, fontsize=13,
         fontweight='bold', ha='center', va='center')
fig.text(995 / FIG_W, 2 / FIG_H, 'Expansion Months', fontsize=13,
         ha='center', va='bottom')

fig.text(1181 / FIG_W, 1 - 1343 / FIG_H, 'Final enrollment model vs. actuals',
         fontsize=50.5, ha='center', va='baseline')

overlay = fig.add_axes([0, 0, 1, 1])
overlay.set_xlim(0, FIG_W)
overlay.set_ylim(FIG_H, 0)
overlay.axis('off')
overlay.plot(840, 1383, marker='*', ms=30, mfc='#ffff00', mec='black', mew=1.5)
overlay.text(878, 1386, 'Denotes states excluded from model construction due to\n'
             'non-standard expansion trajectories', fontsize=21, ha='left', va='center')

fig.savefig('out.png', dpi=100)
